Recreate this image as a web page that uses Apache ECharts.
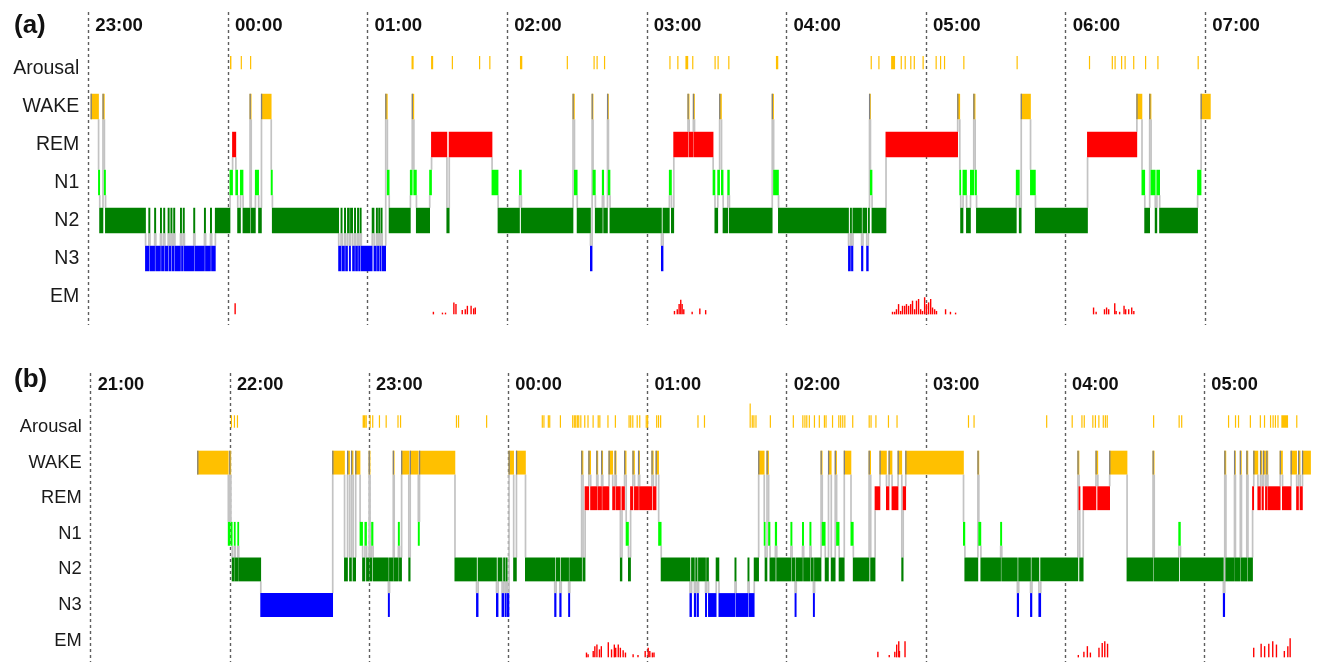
<!DOCTYPE html>
<html><head><meta charset="utf-8">
<script src="https://cdn.jsdelivr.net/npm/echarts@6/dist/echarts.min.js"></script>
<style>html,body{margin:0;padding:0;background:#fff}#c{width:1336px;height:664px}</style>
</head><body><div id="c"></div>
<script>
// ---------- labels ----------
const rowNames = ['Arousal', 'WAKE', 'REM', 'N1', 'N2', 'N3', 'EM'];
const hoursA = ['23:00', '00:00', '01:00', '02:00', '03:00', '04:00', '05:00', '06:00', '07:00', '08:00'];
const hoursB = ['21:00', '22:00', '23:00', '00:00', '01:00', '02:00', '03:00', '04:00', '05:00', '06:00'];
const stageRow = { W: 1, R: 2, N1: 3, N2: 4, N3: 5 };

// ---------- panel (a) : minutes after 23:00 ----------
// hypnogram change points [minute, stage]; stage holds until the next point
const hypnoA = [[1.0,'W'],[4.2,'N1'],[4.7,'N2'],[6.1,'W'],[6.7,'N1'],[7.2,'N2'],
[24.4,'N3'],[25.8,'N2'],[26.3,'N3'],[28.3,'N2'],[28.8,'N3'],[30.8,'N2'],[31.3,'N3'],[32.2,'N2'],[32.7,'N3'],[34.1,'N2'],[34.6,'N3'],[35.3,'N2'],[35.8,'N3'],[36.5,'N2'],[37.0,'N3'],[39.4,'N2'],[39.9,'N3'],[40.6,'N2'],[41.1,'N3'],[45.1,'N2'],[45.6,'N3'],[49.7,'N2'],[50.2,'N3'],[52.3,'N2'],[52.8,'N3'],[54.4,'N2'],
[60.7,'N1'],[61.8,'R'],[63.2,'N1'],[64.0,'N2'],[65.2,'N1'],[66.3,'N2'],[69.3,'W'],[69.8,'N2'],[71.6,'N1'],[73.0,'N2'],[74.2,'W'],[78.4,'N1'],[78.9,'N2'],
[107.4,'N3'],[108.4,'N2'],[108.9,'N3'],[109.9,'N2'],[110.4,'N3'],[111.2,'N2'],[112.0,'N3'],[112.5,'N2'],[113.4,'N3'],[114.2,'N2'],[114.7,'N3'],[115.5,'N2'],[116.0,'N3'],[116.6,'N2'],[117.1,'N3'],[121.8,'N2'],[122.6,'N3'],[123.6,'N2'],[124.1,'N3'],[124.6,'N2'],[125.1,'N3'],[125.6,'N2'],[126.1,'N3'],[127.6,'W'],[128.3,'N1'],[129.1,'N2'],[138.2,'N1'],[139.0,'W'],[139.7,'N1'],[140.8,'N2'],[146.5,'N1'],[147.3,'R'],[153.9,'N2'],[154.9,'R'],[173.3,'N1'],[175.9,'N2'],[185.1,'N1'],[185.9,'N2'],[208.1,'W'],[208.7,'N1'],[209.9,'N2'],[215.6,'N3'],[216.3,'W'],[216.7,'N1'],[217.7,'N2'],[220.7,'N1'],[221.3,'N2'],[222.9,'W'],[223.3,'N1'],[224.0,'N2'],[246.1,'N3'],[246.8,'N2'],[249.5,'N1'],[250.4,'N2'],[251.4,'R'],[257.5,'W'],[258.0,'R'],[259.8,'W'],[260.3,'R'],[268.3,'N1'],[269.1,'N2'],[270.3,'N1'],[271.1,'W'],[271.9,'N1'],[272.6,'N2'],[274.6,'N1'],[275.3,'N2'],[293.7,'W'],[294.3,'N1'],[296.4,'N2'],[326.5,'N3'],[327.3,'N2'],[327.8,'N3'],[328.4,'N2'],[332.1,'N3'],[332.7,'N2'],[334.3,'N3'],[335.0,'N2'],[335.5,'W'],[335.9,'N1'],[336.6,'N2'],[342.6,'R'],[373.4,'W'],[374.3,'N1'],[374.7,'N2'],[375.7,'N1'],[377.2,'N2'],[378.9,'N1'],[380.3,'W'],[380.9,'N1'],[381.5,'N2'],[398.6,'N1'],[399.9,'N2'],[400.7,'W'],[404.7,'N1'],[406.8,'N2'],[429.2,'R'],[450.4,'W'],[452.6,'N1'],[453.8,'N2'],[455.9,'W'],[456.5,'N1'],[458.3,'N2'],[459.0,'N1'],[460.2,'N2'],[476.5,'N1'],[478.0,'W']];
const endA = 482.0;
// arousals [minute, duration(min), height factor]
const arousalA = [[60.9,0.6],[65.5,0.5],[69.5,0.5],[138.9,0.9],[147.3,0.9],[156.2,0.5],[167.9,0.5],[172.3,0.5],[185.5,1.0],[205.6,0.5],[217.1,0.5],[218.4,0.5],[221.6,0.5],[249.7,0.5],[253.1,0.5],[256.6,1.2],[259.5,0.5],[269.1,0.5],[270.4,0.5],[275.0,0.5],[295.5,1.0],[336.2,0.5],[339.5,0.5],[345.0,1.7],[349.1,0.5],[350.8,0.5],[353.2,0.5],[354.7,0.5],[358.5,0.5],[364.1,0.5],[366.0,0.5],[367.7,0.5],[376.0,0.5],[398.9,0.5],[430.0,0.5],[439.8,0.5],[441.0,0.5],[443.8,0.5],[445.3,0.5],[449.0,0.5],[454.1,0.5],[459.4,0.5],[476.7,0.5]];
// eye movements [minute, amplitude]
const emA = [[62.8,6.5],[148.0,1.5],[151.9,1],[153.2,1],[156.8,7],[157.7,6],[160.4,2.5],[161.7,3],[162.6,5],[164.2,5],[165.3,3.5],[166.0,4],
[251.6,2],[252.8,3],[253.6,6],[254.3,8.5],[254.9,6],[255.6,3],[259.2,1.5],[262.5,3.5],[265.0,2.5],
[345.3,1.5],[346.2,1.5],[347.0,3],[347.9,6],[348.8,2],[349.6,5],[350.5,5],[351.3,6],[352.2,5],[353.1,6],[353.9,8],[354.8,3],[355.6,8],[356.5,9],[357.4,3],[358.2,2],[359.1,10],[359.9,6],[360.8,7],[361.7,9],[362.5,4],[363.4,3],[364.2,2],[368.1,3],[370.2,1.5],[372.4,1],
[431.7,4],[432.8,1.5],[436.4,3],[437.3,4],[438.2,3],[440.8,6.5],[441.4,2],[442.9,1.5],[444.8,5],[445.5,3],[446.8,3],[448.1,4],[449.0,2]];

// ---------- panel (b) : minutes after 21:00 ----------
const hypnoB = [[45.9,'W'],[59.1,'N1'],[59.7,'W'],[60.2,'N1'],[60.8,'N2'],[61.7,'N1'],[62.1,'N2'],[63.2,'N1'],[63.6,'N2'],[73.1,'N3'],[104.1,'W'],[109.2,'N2'],[110.5,'W'],[111.4,'N2'],[112.2,'W'],[112.9,'N2'],[114.0,'W'],[115.9,'N1'],[117.0,'N2'],[118.0,'N1'],[118.7,'N2'],[119.8,'W'],[120.2,'N2'],[120.9,'N1'],[121.5,'N2'],[128.1,'N3'],[128.6,'N2'],[130.2,'W'],[130.6,'N2'],[132.4,'N1'],[132.9,'N2'],[133.8,'W'],[136.9,'N2'],[137.5,'W'],[141.0,'N1'],[141.5,'W'],[156.8,'N2'],[166.1,'N3'],[166.8,'N2'],[174.7,'N3'],[175.4,'N2'],[177.1,'N3'],[177.8,'N2'],[178.4,'N3'],[178.9,'N2'],[179.3,'N3'],[180.1,'W'],[182.1,'N2'],[183.3,'W'],[187.2,'N2'],[199.8,'N3'],[200.4,'N2'],[202.0,'N3'],[202.6,'N2'],[205.8,'N3'],[206.3,'N2'],[211.4,'W'],[212.0,'N2'],[212.9,'R'],[214.5,'W'],[215.3,'R'],[217.9,'W'],[218.4,'R'],[220.0,'W'],[220.5,'R'],[223.2,'W'],[224.8,'R'],[225.8,'W'],[226.3,'R'],[228.1,'N2'],[228.8,'R'],[229.9,'W'],[230.6,'N1'],[231.6,'N2'],[232.5,'R'],[233.5,'W'],[234.2,'R'],[235.9,'W'],[236.4,'R'],[241.7,'W'],[242.3,'R'],[243.5,'W'],[244.6,'N1'],[245.7,'N2'],[258.1,'N3'],[258.8,'N2'],[260.0,'N3'],[260.6,'N2'],[261.2,'N3'],[261.8,'N2'],[264.8,'N3'],[265.3,'N2'],[266.1,'N3'],[269.4,'N2'],[270.6,'N3'],[277.5,'N2'],[278.0,'N3'],[283.1,'N2'],[283.6,'N3'],[285.8,'N2'],[287.7,'W'],[290.1,'N1'],[290.5,'N2'],[291.3,'W'],[292.0,'N1'],[292.6,'N2'],[294.9,'N1'],[295.5,'N2'],[301.6,'N1'],[302.1,'N2'],[303.4,'N3'],[303.9,'N2'],[306.6,'N1'],[307.1,'N2'],[309.8,'N1'],[310.3,'N2'],[311.3,'N3'],[311.8,'N2'],[314.6,'W'],[315.1,'N1'],[316.4,'N2'],[317.8,'W'],[319.0,'N2'],[320.7,'W'],[321.3,'N1'],[322.4,'N2'],[324.6,'W'],[327.5,'N1'],[328.5,'N2'],[335.3,'W'],[336.0,'N2'],[337.9,'R'],[340.0,'W'],[342.8,'R'],[343.9,'W'],[345.2,'R'],[347.8,'W'],[349.4,'N2'],[350.0,'R'],[351.1,'W'],[376.0,'N1'],[376.6,'N2'],[382.2,'W'],[382.6,'N1'],[383.5,'N2'],[392.0,'N1'],[392.5,'N2'],[399.2,'N3'],[399.8,'N2'],[404.9,'N3'],[405.5,'N2'],[408.5,'N3'],[409.3,'N2'],[425.3,'W'],[425.8,'R'],[426.1,'N2'],[427.6,'R'],[433.1,'W'],[433.9,'R'],[439.0,'W'],[446.5,'N2'],[457.7,'W'],[458.2,'N2'],[468.8,'N1'],[469.5,'N2'],[488.0,'N3'],[488.6,'W'],[489.1,'N2'],[492.8,'W'],[493.2,'N2'],[495.3,'W'],[495.8,'N2'],[498.1,'W'],[498.6,'N2'],[500.6,'R'],[501.1,'W'],[502.9,'R'],[504.0,'W'],[504.7,'R'],[505.3,'W'],[506.2,'R'],[506.7,'W'],[507.2,'R'],[512.5,'W'],[513.5,'R'],[517.2,'W'],[519.6,'R'],[520.4,'W'],[521.1,'R'],[522.1,'W']];
const endB = 525.6;
const arousalB = [[60.4,0.5],[61.7,0.5],[63.0,0.5],[117.2,1.3],[118.5,0.5],[120.2,0.5],[121.3,0.5],[124.2,0.5],[127.1,0.5],[132.2,0.5],[133.3,0.5],[157.4,0.5],[158.3,0.5],[170.4,0.5],[194.4,0.5],[195.1,0.5],[197.0,0.5],[197.6,0.5],[202.2,0.5],[207.5,0.5],[208.2,0.5],[208.8,0.5],[209.5,0.5],[210.1,0.5],[211.0,0.5],[212.7,0.5],[214.1,0.5],[216.3,0.5],[218.5,0.5],[219.2,0.5],[222.7,0.5],[225.9,0.5],[231.8,0.5],[232.5,0.5],[233.4,0.5],[235.3,0.5],[236.4,0.5],[239.2,0.5],[239.8,0.5],[243.7,0.5],[244.5,0.5],[245.4,0.5],[261.5,0.5],[264.3,0.5],[284.0,0.5,2],[284.9,0.5],[285.6,0.5],[286.5,0.5],[292.7,0.5],[302.6,0.5],[306.7,0.5],[307.6,0.5],[308.4,0.5],[309.5,0.5],[311.7,0.5],[313.8,0.5],[316.0,0.5],[316.7,0.5],[319.5,0.5],[322.2,0.5],[323.0,0.5],[323.9,0.5],[324.8,0.5],[328.2,0.5],[335.3,0.5],[336.1,0.5],[338.2,0.5],[343.6,0.5],[347.3,0.5],[378.1,0.5],[380.5,0.5],[411.8,0.5],[422.8,0.5],[427.0,0.5],[428.0,0.5],[431.7,0.5],[432.8,0.5],[434.3,0.5],[436.2,0.5],[437.1,0.5],[437.9,0.5],[457.9,0.5],[468.9,0.5],[470.0,0.5],[490.2,0.5],[493.2,0.5],[494.5,0.5],[499.6,0.5],[503.9,0.5],[505.7,0.5],[508.3,0.5],[509.4,0.5],[510.4,0.5],[511.5,0.5],[513.2,2.9],[519.6,0.5]];
const emB = [[213.4,3],[214.1,2],[216.3,4],[217.0,7],[217.9,8],[219.0,5],[219.8,7],[222.8,9.5],[224.2,5],[225.4,8],[226.0,6],[227.1,8],[228.0,6],[229.2,4.5],[230.2,3],[233.5,2],[235.6,1.5],[238.7,4],[240.0,6],[240.7,4],[241.8,3],[242.5,3],
[339.0,3.5],[343.9,1.5],[346.3,3.5],[347.1,8],[348.0,10],[348.3,4],[350.7,10],
[425.4,1.5],[427.8,3.5],[429.3,7],[430.6,3],[434.3,6],[435.7,9],[436.8,10],[438.0,8.5],
[501.0,6],[504.2,8.5],[505.7,7],[507.5,8.5],[509.2,10],[510.8,8],[514.2,4],[515.7,7],[516.7,12]];

// ---------- styling ----------
const stageColor = { 1: '#FFC000', 2: '#FF0000', 3: '#00FF00', 4: '#008000', 5: '#0000FF' };
const HALF = 0.335;          // half block height in row units
const FONT = 'Liberation Sans, Arial, sans-serif';

function segments(h, end) {
  return h.map((p, i) => [p[0], i + 1 < h.length ? h[i + 1][0] : end, stageRow[p[1]]]);
}
function transitions(h) {
  const out = [];
  for (let i = 1; i < h.length; i++) {
    const a = stageRow[h[i - 1][1]], b = stageRow[h[i][1]];
    if (a !== b) out.push([h[i][0], a, b]);
  }
  return out;
}

function renderStage(params, api) {
  const s = api.value(0), e = api.value(1), r = api.value(2);
  const p1 = api.coord([s, r - HALF]), p2 = api.coord([e, r + HALF]);
  const w = Math.max(1, p2[0] - p1[0]) + 0.8;
  const ch = [{ type: 'rect', shape: { x: p1[0], y: p1[1], width: w, height: p2[1] - p1[1] }, style: { fill: stageColor[r] } }];
  if (r === 1) ch.push({ type: 'line', shape: { x1: p1[0] + 0.6, y1: p1[1], x2: p1[0] + 0.6, y2: p2[1] }, style: { stroke: '#808080', lineWidth: 1.3 } });
  return { type: 'group', children: ch };
}
function renderTrans(params, api) {
  const t = api.value(0), a = api.value(1), b = api.value(2);
  const d = b > a ? 1 : -1;
  const p1 = api.coord([t, a + d * HALF]), p2 = api.coord([t, b - d * HALF]);
  return { type: 'line', shape: { x1: p1[0] + 0.5, y1: p1[1], x2: p2[0] + 0.5, y2: p2[1] }, style: { stroke: '#c3c3c3', lineWidth: 1.7 } };
}
function renderArousal(params, api) {
  const t = api.value(0), d = api.value(1), k = api.value(2) || 1;
  const p1 = api.coord([t, -0.33 * k]), p2 = api.coord([t + d, 0.02]);
  return { type: 'rect', shape: { x: p1[0], y: p1[1], width: Math.max(1.2, p2[0] - p1[0]), height: p2[1] - p1[1] }, style: { fill: '#FFC000' } };
}
function renderEM(params, api) {
  const t = api.value(0), v = api.value(1);
  const base = 6.47;
  const p1 = api.coord([t, base - v * 0.045]), p2 = api.coord([t + 0.6, base]);
  return { type: 'rect', shape: { x: p1[0], y: p1[1], width: Math.max(1.2, p2[0] - p1[0]), height: p2[1] - p1[1] }, style: { fill: '#FF0000' } };
}
function makeLabelRenderer(fontSize) {
  return function (params, api) {
    const p = api.coord([0, api.value(1)]);
    return { type: 'text', x: p[0] - 9, y: p[1], style: { text: rowNames[params.dataIndex], align: 'right', verticalAlign: 'middle', fontFamily: FONT, fontSize: fontSize, fill: '#1a1a1a' } };
  };
}

const panels = [
  { hyp: hypnoA, end: endA, ar: arousalA, em: emA, hours: hoursA, grid: { left: 88.3, top: 12, width: 540 * 2.327, height: 313, containLabel: false, outerBoundsMode: 'none' }, ymin: -1.487, ymax: 6.75, rowFont: 19.5, hourFont: 18.6, margin: 4 },
  { hyp: hypnoB, end: endB, ar: arousalB, em: emB, hours: hoursB, grid: { left: 90.7, top: 373, width: 540 * 2.32, height: 289, containLabel: false, outerBoundsMode: 'none' }, ymin: -1.517, ymax: 6.6, rowFont: 18.3, hourFont: 18.2, margin: 3 }
];

const option = {
  animation: false,
  backgroundColor: '#fff',
  title: [
    { text: '(a)', left: 9, top: 8, textStyle: { fontFamily: FONT, fontSize: 26, fontWeight: 'bold', color: '#111' } },
    { text: '(b)', left: 9, top: 362, textStyle: { fontFamily: FONT, fontSize: 26, fontWeight: 'bold', color: '#111' } }
  ],
  grid: panels.map(p => p.grid),
  xAxis: panels.map((p, i) => ({
    type: 'value', gridIndex: i, min: 0, max: 540, interval: 60, position: 'top',
    axisLine: { show: false }, axisTick: { show: false },
    splitLine: { show: true, showMinLine: true, lineStyle: { color: '#5e5e5e', type: [3, 3], width: 1.4 } },
    axisLabel: { inside: true, margin: p.margin, align: 'left', padding: [0, 0, 0, 7], fontFamily: FONT, fontWeight: 'bold', fontSize: p.hourFont, color: '#111',
      formatter: v => p.hours[Math.round(v / 60)] || '' }
  })),
  yAxis: panels.map((p, i) => ({ type: 'value', gridIndex: i, min: p.ymin, max: p.ymax, inverse: true, show: false })),
  series: []
};

panels.forEach((p, i) => {
  const common = { type: 'custom', coordinateSystem: 'cartesian2d', xAxisIndex: i, yAxisIndex: i, silent: true };
  option.series.push(Object.assign({}, common, { name: 'transitions' + i, z: 2, renderItem: renderTrans, data: transitions(p.hyp), encode: { x: 0, y: [1, 2] } }));
  option.series.push(Object.assign({}, common, { name: 'stages' + i, z: 3, renderItem: renderStage, data: segments(p.hyp, p.end), encode: { x: [0, 1], y: 2 } }));
  option.series.push(Object.assign({}, common, { name: 'arousal' + i, z: 3, renderItem: renderArousal, data: p.ar.map(a => [a[0], a[1], a[2] || 1]), encode: { x: 0, y: 2 } }));
  option.series.push(Object.assign({}, common, { name: 'em' + i, z: 3, renderItem: renderEM, data: p.em, encode: { x: 0, y: 1 } }));
  option.series.push(Object.assign({}, common, { name: 'labels' + i, z: 4, clip: false, renderItem: makeLabelRenderer(p.rowFont), data: rowNames.map((n, k) => [0, k]), encode: { x: 0, y: 1 } }));
});

const chart = echarts.init(document.getElementById('c'), null, { renderer: 'canvas' });
chart.setOption(option);
</script></body></html>
